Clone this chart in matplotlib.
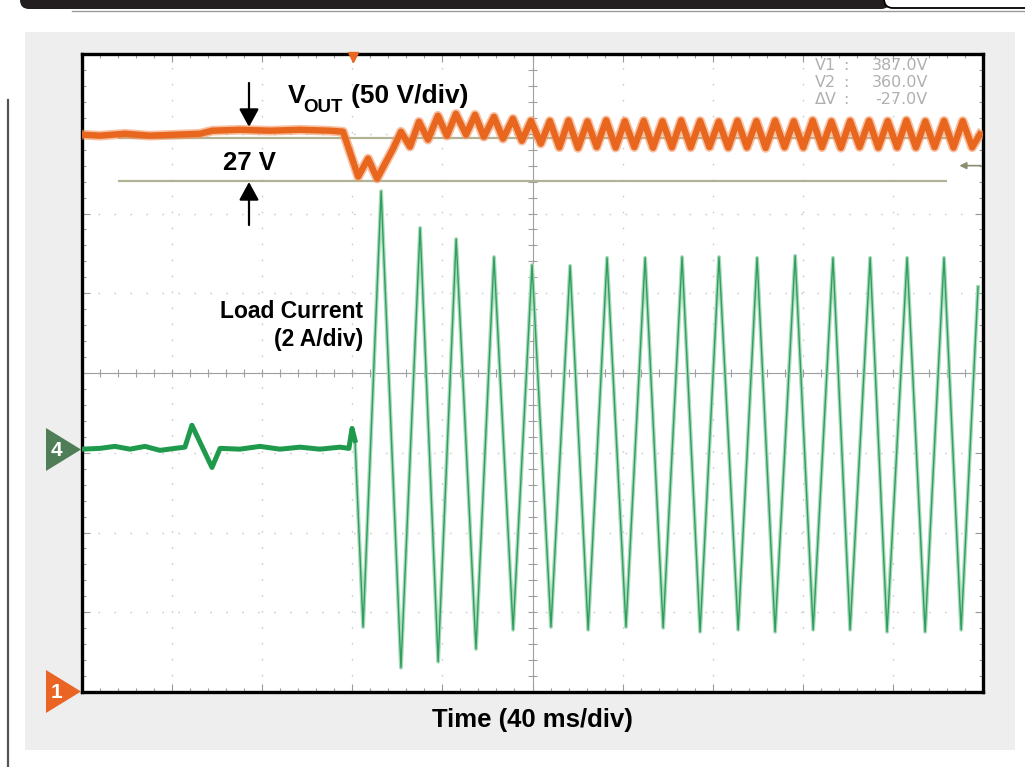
import numpy as np
import matplotlib
matplotlib.use("Agg")
import matplotlib.pyplot as plt
import matplotlib.patches as patches
from matplotlib.lines import Line2D
from matplotlib.transforms import IdentityTransform
from matplotlib.ticker import MultipleLocator

plt.rcParams['font.family'] = ['Liberation Sans', 'DejaVu Sans']

W, H = 1025, 767

# scope settings
MS_PER_DIV = 40
V_PER_DIV = 50
A_PER_DIV = 2
V1_CURSOR = 387.0
V2_CURSOR = 360.0
V1_DIV = 6.95      # screen division where the V1 cursor sits
CH4_ZERO_DIV = 3.03  # screen division of the channel 4 zero marker

# channel 1: V_OUT (ms, V)
vout_ms = [0, 8.0, 19.1, 30.2, 41.3, 52.4, 57.7, 70.2, 83.5, 96.8, 110.1, 115.9,
           122.6, 127.0, 131.0, 138.1,
           141.6, 145.6, 149.6, 153.6, 158.0, 162.0, 166.0, 170.5, 174.5, 178.4,
           182.9, 186.9, 191.3, 195.3, 199.3, 203.7,
           207.7, 211.9, 216.0, 220.2, 224.4, 228.5, 232.7, 236.9, 241.0, 245.2,
           249.4, 253.5, 257.7, 261.9, 266.0, 270.2, 274.4, 278.5, 282.7, 286.9,
           291.0, 295.2, 299.4, 303.5, 307.7, 311.9, 316.0, 320.2, 324.4, 328.5,
           332.7, 336.9, 341.0, 345.2, 349.4, 353.5, 357.7, 361.9, 366.0, 370.2,
           374.4, 378.5, 382.7, 386.9, 391.0, 395.2, 398.6]
vout_v = [388.9, 388.3, 389.5, 388.3, 388.9, 389.5, 391.4, 392.0, 391.4, 392.0, 391.4, 390.8,
          362.6, 373.9, 361.4, 380.1,
          390.8, 381.4, 397.0, 385.8, 400.8, 388.3, 402.0, 388.9, 401.4, 387.6,
          400.1, 386.4, 398.9, 385.1, 397.6, 383.3,
          397.5, 381.0, 397.8, 380.6, 397.2, 381.2, 397.9, 380.8, 397.4, 381.1,
          397.6, 380.7, 397.3, 381.0, 397.8, 380.9, 397.5, 381.2, 397.1, 380.8,
          397.6, 381.0, 397.4, 380.6, 397.7, 381.1, 397.3, 380.9, 397.8, 381.0,
          397.2, 380.7, 397.5, 381.2, 397.6, 380.8, 397.4, 381.0, 397.9, 380.9,
          397.3, 381.1, 397.6, 380.8, 397.5, 381.0, 389.0]

# channel 4: load current (ms, A)
cur_ms = [0, 8.0, 14.6, 21.3, 28.0, 34.6, 41.3, 45.7, 48.8, 57.7, 61.3, 70.1, 79.0,
          87.9, 96.8, 105.6, 114.5, 118.5, 119.9, 121.2,
          124.8, 132.8, 141.6, 150.1, 158.1, 166.1, 174.9, 182.9, 191.4, 199.8,
          208.2, 216.7, 224.7, 233.1, 241.5, 250.0, 258.0, 266.4, 274.4, 282.8,
          291.3, 299.7, 307.7, 316.6, 324.6, 333.4, 341.0, 349.9, 357.4, 366.3,
          374.3, 382.7, 390.3, 397.8]
cur_a = [0.03, 0.05, 0.10, 0.03, 0.10, 0.0, 0.05, 0.08, 0.63, -0.43, 0.05, 0.03, 0.10,
         0.03, 0.08, 0.03, 0.08, 0.05, 0.55, 0.25,
         -4.43, 6.50, -5.45, 5.58, -5.30, 5.30, -4.98, 4.85, -4.50, 4.65,
         -4.43, 4.63, -4.50, 4.83, -4.43, 4.83, -4.45, 4.85, -4.55, 4.85,
         -4.50, 4.83, -4.55, 4.88, -4.50, 4.83, -4.50, 4.83, -4.55, 4.83,
         -4.55, 4.83, -4.50, 4.10]
LOAD_STEP_MS = 121.2
TRIGGER_MS = 120.3

cursor_rows = [("V1", "387.0V"), ("V2", "360.0V"), ("\u0394V", "-27.0V")]


def v_div(v):
    return (np.asarray(v) - V1_CURSOR) / V_PER_DIV + V1_DIV


def i_div(a):
    return np.asarray(a) / A_PER_DIV + CH4_ZERO_DIV


fig = plt.figure(figsize=(W / 100, H / 100), dpi=100)
fig.patch.set_facecolor('white')
px = IdentityTransform()

# page decoration
fig.patches.append(patches.Rectangle((25, H - 750), 990, 718, transform=px,
                                     facecolor='#eeeeee', edgecolor='none', zorder=-5))
fig.patches.append(patches.FancyBboxPatch((20, H - 9), 870, 40, transform=px,
                                          boxstyle='round,pad=0,rounding_size=9',
                                          facecolor='#231f20', edgecolor='none'))
fig.patches.append(patches.FancyBboxPatch((884, H - 8), 200, 40, transform=px,
                                          boxstyle='round,pad=0,rounding_size=9',
                                          facecolor='white', edgecolor='black', lw=1.3))
fig.lines.append(Line2D([72, W], [H - 10.5, H - 10.5], transform=px, color='#9a9a9a', lw=1))
fig.lines.append(Line2D([8, 8], [0, H - 100], transform=px, color='#555555', lw=1.6))

ax = fig.add_axes([82 / W, 1 - 692 / H, (983 - 82) / W, (692 - 54) / H])
ax.set_zorder(1)
ax.set_facecolor('white')
ax.set_xlim(0, 10 * MS_PER_DIV)
ax.set_ylim(0, 8)
ax.xaxis.set_major_locator(MultipleLocator(MS_PER_DIV))
ax.xaxis.set_minor_locator(MultipleLocator(MS_PER_DIV / 5))
ax.yaxis.set_major_locator(MultipleLocator(1))
ax.yaxis.set_minor_locator(MultipleLocator(0.2))
ax.tick_params(which='both', direction='in', top=True, right=True,
               labelbottom=False, labelleft=False, color='#9a9a9a', width=0.8)
ax.tick_params(which='major', length=6)
ax.tick_params(which='minor', length=3)
for s in ax.spines.values():
    s.set_linewidth(2.4)
    s.set_color('black')
ax.grid(which='major', color='#cccccc', linestyle=(0, (1.2, 10.3)), lw=1)

# center cross of the graticule
xc, yc = 5 * MS_PER_DIV, 4
ax.axvline(xc, color='#a0a0a0', lw=0.8)
ax.axhline(yc, color='#a0a0a0', lw=0.8)
ax.vlines(np.arange(0, 10 * MS_PER_DIV + 1, MS_PER_DIV / 5), yc - 0.05, yc + 0.05,
          color='#a0a0a0', lw=0.8)
ax.hlines(np.arange(0, 8.01, 0.2), xc - 1.8, xc + 1.8, color='#a0a0a0', lw=0.8)

# cursors
ax.hlines([v_div(V1_CURSOR), v_div(V2_CURSOR)], 16, 384, color='#b2b294', lw=1.6, zorder=2)
ax.annotate('', xy=(389.5, 6.6), xytext=(399, 6.6),
            arrowprops=dict(arrowstyle='-|>,head_length=0.4,head_width=0.2',
                            color='#8c8c70', lw=1.2, shrinkA=0, shrinkB=0))

# traces
t_c = np.array(cur_ms)
a_c = np.array(cur_a)
pre = t_c <= LOAD_STEP_MS
post = t_c >= LOAD_STEP_MS
ax.plot(t_c[post], i_div(a_c[post]), color='#a9dbbb', lw=2.8, zorder=3)
ax.plot(t_c[post], i_div(a_c[post]), color='#2f9e5f', lw=1.0, zorder=4)
ax.plot(t_c[pre], i_div(a_c[pre]), color='#1f9a4d', lw=3.6, zorder=4,
        solid_joinstyle='round')

ax.plot(vout_ms, v_div(vout_v), color='#f29a68', lw=7.0, zorder=5, alpha=0.6,
        solid_joinstyle='round')
ax.plot(vout_ms, v_div(vout_v), color='#e8661e', lw=4.6, zorder=5,
        solid_joinstyle='round')
ax.plot([TRIGGER_MS], [7.96], marker='v', color='#e8661e', ms=7, clip_on=False, zorder=6)

# cursor readout
for k, (name, val) in enumerate(cursor_rows):
    y = 65 + 17.5 * k
    for xpos, s, ha in [(815, name, 'left'), (843, ':', 'left'), (928, val, 'right')]:
        fig.text(xpos / W, 1 - y / H, s, color='#b0b0b0', fontsize=11.5, va='center',
                 ha=ha, family='DejaVu Sans', zorder=3)

# annotations
bold = dict(fontweight='bold', color='black', zorder=3)
fig.text(288 / W, 1 - 103 / H, 'V', fontsize=19, va='baseline', **bold)
fig.text(303 / W, 1 - 112 / H, 'OUT', fontsize=13.5, va='baseline', **bold)
fig.text(351 / W, 1 - 103 / H, '(50 V/div)', fontsize=19, va='baseline', **bold)
fig.text(249 / W, 1 - 170 / H, '27 V', fontsize=18.5, va='baseline', ha='center', **bold)
fig.text(363 / W, 1 - 318 / H, 'Load Current', fontsize=16.5, va='baseline', ha='right', **bold)
fig.text(363 / W, 1 - 346 / H, '(2 A/div)', fontsize=16.5, va='baseline', ha='right', **bold)
fig.text(532 / W, 1 - 727 / H, 'Time (40 ms/div)', fontsize=18.5, va='baseline', ha='center', **bold)

arrow = dict(arrowstyle='-|>,head_length=0.55,head_width=0.3', color='black',
             lw=1.6, mutation_scale=20, shrinkA=0, shrinkB=0)
ax.annotate('', xy=(249, H - 127), xytext=(249, H - 83),
            xycoords='figure pixels', textcoords='figure pixels', arrowprops=arrow)
ax.annotate('', xy=(249, H - 182), xytext=(249, H - 225),
            xycoords='figure pixels', textcoords='figure pixels', arrowprops=arrow)

# channel markers
fig.patches.append(patches.Polygon([(46, H - 428), (46, H - 471), (81, H - 449.5)],
                                   closed=True, transform=px, facecolor='#4f7d57', edgecolor='none'))
fig.patches.append(patches.Polygon([(46, H - 670), (46, H - 713), (81, H - 691.5)],
                                   closed=True, transform=px, facecolor='#ea6424', edgecolor='none'))
fig.text(56 / W, 1 - 450 / H, '4', color='white', fontsize=15, fontweight='bold',
         ha='center', va='center')
fig.text(56 / W, 1 - 692 / H, '1', color='white', fontsize=15, fontweight='bold',
         ha='center', va='center')

plt.savefig('out.png', dpi=100)
